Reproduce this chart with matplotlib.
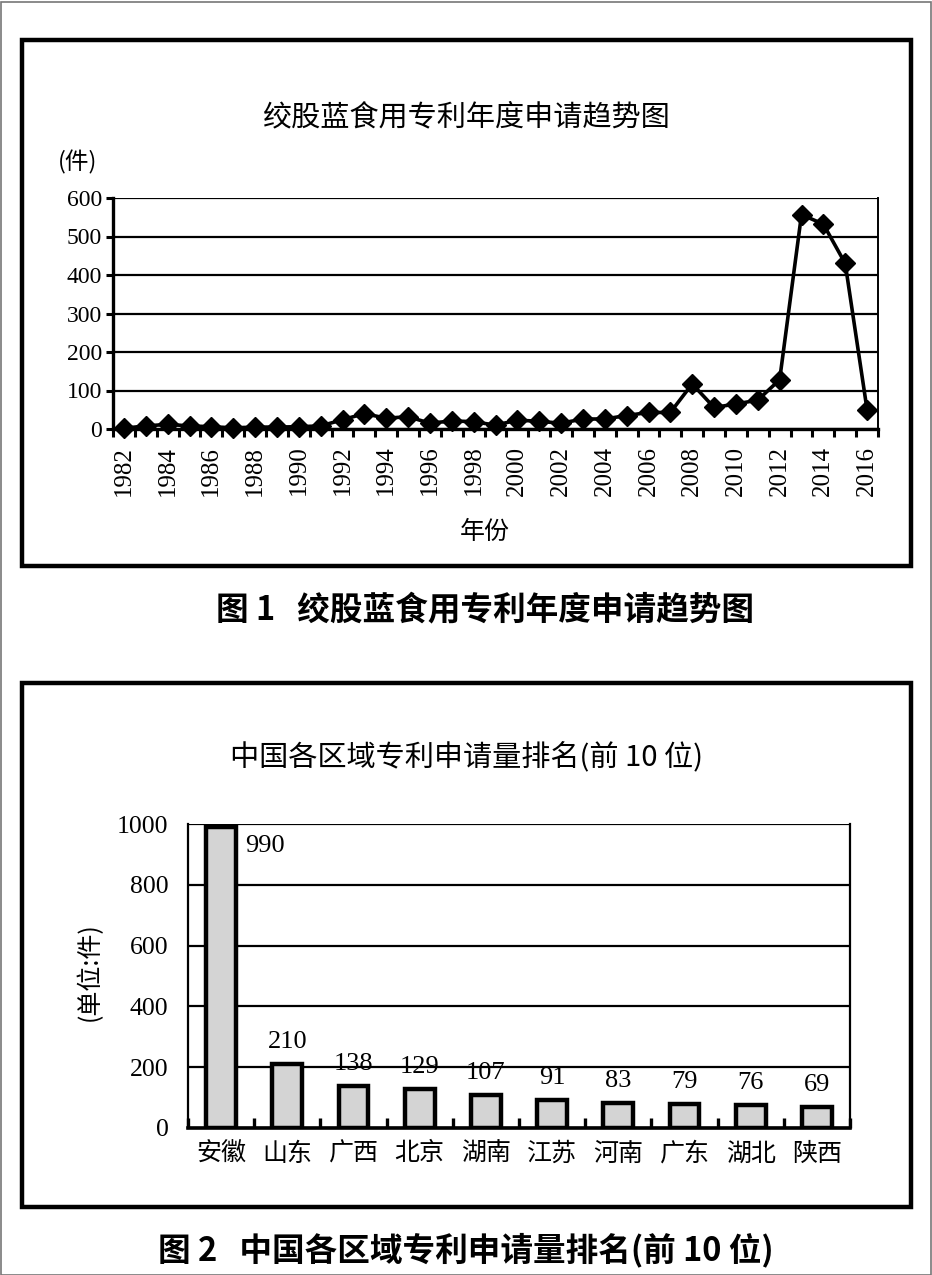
import matplotlib
matplotlib.use('Agg')
import matplotlib.pyplot as plt
from matplotlib.patches import Rectangle
import numpy as np

# ---------------- data ----------------
years = list(range(1982, 2017))
counts = [2, 8, 12, 8, 6, 3, 5, 5, 6, 8,
          24, 40, 28, 32, 15, 21, 19, 10, 23, 20,
          15, 26, 26, 35, 43, 43, 117, 56, 65, 75,
          128, 557, 532, 430, 50]
line_yticks = [0, 100, 200, 300, 400, 500, 600]

regions = ['安徽', '山东', '广西', '北京', '湖南', '江苏', '河南', '广东', '湖北', '陕西']
apps = [990, 210, 138, 129, 107, 91, 83, 79, 76, 69]
bar_yticks = [0, 200, 400, 600, 800, 1000]

title1 = '绞股蓝食用专利年度申请趋势图'
caption1 = '图 1   绞股蓝食用专利年度申请趋势图'
title2 = '中国各区域专利申请量排名(前 10 位)'
caption2 = '图 2   中国各区域专利申请量排名(前 10 位)'

# ---------------- layout ----------------
W, H = 932, 1275
fig = plt.figure(figsize=(W / 100, H / 100), dpi=100)
fig.patch.set_facecolor('white')

CJK = ['Noto Sans CJK SC', 'DejaVu Sans']
SERIF = ['Liberation Serif', 'DejaVu Serif']


def rect(l, t, r, b):
    return [l / W, 1 - b / H, (r - l) / W, (b - t) / H]


def ftext(x, y, s, **kw):
    fig.text(x / W, 1 - y / H, s, **kw)


# page border
fig.add_artist(Rectangle((0.5 / W, 0.5 / H), (W - 2) / W, (H - 2) / H,
                         transform=fig.transFigure, fill=False,
                         edgecolor='#777777', linewidth=1.2))
# chart boxes
for (l, t, r, b) in [(22, 40, 911, 566), (22, 683, 911, 1207)]:
    fig.add_artist(Rectangle((l / W, 1 - b / H), (r - l) / W, (b - t) / H,
                             transform=fig.transFigure, fill=False,
                             edgecolor='black', linewidth=3.2))

# ---------------- chart 1: line ----------------
ax1 = fig.add_axes(rect(113, 198, 878, 429))
xpos = np.arange(len(years))
ax1.plot(xpos, counts, color='black', linewidth=2.6, marker='D',
         markersize=10, markerfacecolor='black', markeredgecolor='black',
         zorder=5, clip_on=False)
ax1.set_xlim(-0.5, len(years) - 0.5)
ax1.set_ylim(0, 600)
ax1.set_yticks(line_yticks)
ax1.set_yticklabels([str(v) for v in line_yticks], fontfamily=SERIF, fontsize=17)
ax1.grid(axis='y', color='black', linewidth=1.6)
ax1.set_axisbelow(True)
label_idx = [i for i, y in enumerate(years) if y % 2 == 0]
ax1.set_xticks(label_idx)
ax1.set_xticklabels([str(years[i]) for i in label_idx], rotation=90,
                    fontfamily=SERIF, fontsize=18)
ax1.set_xticks(np.arange(-0.5, len(years), 1.0), minor=True)
ax1.tick_params(axis='x', which='major', length=0, pad=12)
ax1.tick_params(axis='x', which='minor', length=6, width=2.2, direction='out')
ax1.tick_params(axis='y', length=5, width=2.2, direction='out', pad=3)
for s in ['left', 'bottom']:
    ax1.spines[s].set_linewidth(2.4)
ax1.spines['right'].set_linewidth(1.4)
ax1.spines['top'].set_visible(False)

ftext(466, 117, title1, ha='center', va='center', fontfamily=CJK, fontsize=21)
ftext(78, 162, '(件)', ha='center', va='center', fontfamily=CJK, fontsize=17)
ftext(485, 532, '年份', ha='center', va='center', fontfamily=CJK, fontsize=18)
ftext(485, 610, caption1, ha='center', va='center', fontfamily=CJK,
      fontsize=23.5, fontweight='bold')

# ---------------- chart 2: bars ----------------
ax2 = fig.add_axes(rect(188, 824, 850, 1128))
bpos = np.arange(len(regions))
ax2.bar(bpos, apps, width=0.45, color='#d4d4d4', edgecolor='black',
        linewidth=3.2, zorder=3)
ax2.set_xlim(-0.5, len(regions) - 0.5)
ax2.set_ylim(0, 1000)
ax2.set_yticks(bar_yticks)
ax2.set_yticklabels([str(v) for v in bar_yticks], fontfamily=SERIF, fontsize=18.5)
ax2.grid(axis='y', color='black', linewidth=1.6)
ax2.set_axisbelow(True)
ax2.set_xticks(bpos)
ax2.set_xticklabels(regions, fontfamily=CJK, fontsize=18)
ax2.set_xticks(np.arange(-0.5, len(regions), 1.0), minor=True)
ax2.tick_params(axis='x', which='major', length=0, pad=9)
ax2.tick_params(axis='x', which='minor', length=7, width=2.4, direction='in')
ax2.tick_params(axis='y', length=0, pad=14)
ax2.spines['left'].set_linewidth(1.6)
ax2.spines['bottom'].set_linewidth(2.6)
ax2.spines['right'].set_linewidth(1.6)
ax2.spines['top'].set_visible(False)

for i, v in enumerate(apps):
    if v > 900:
        ax2.annotate(str(v), (i, v), xytext=(17, -14), textcoords='offset points',
                     ha='left', va='center', fontfamily=SERIF, fontsize=19)
    else:
        ax2.annotate(str(v), (i, v), xytext=(0, 16), textcoords='offset points',
                     ha='center', va='center', fontfamily=SERIF, fontsize=19)

ftext(466, 757, title2, ha='center', va='center', fontfamily=CJK, fontsize=21)
ftext(90, 972, '(单位:件)', ha='center', va='center', rotation=90,
      fontfamily=CJK, fontsize=18)
ftext(466, 1250, caption2, ha='center', va='center', fontfamily=CJK,
      fontsize=23.5, fontweight='bold')

fig.savefig('out.png', dpi=100, facecolor='white')
